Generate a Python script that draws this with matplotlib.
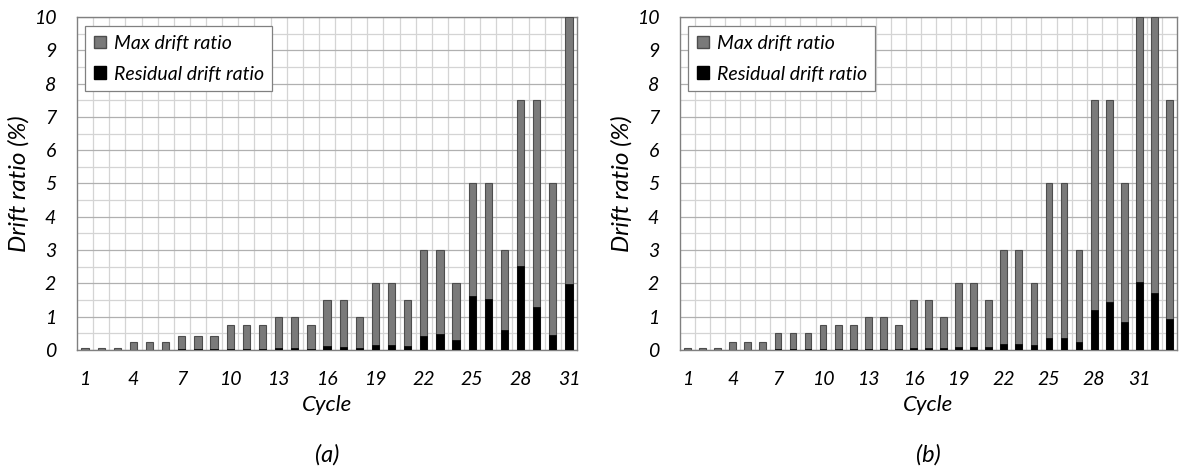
import matplotlib
matplotlib.use("Agg")
import matplotlib.pyplot as plt
import numpy as np
from matplotlib.patches import Patch

plt.rcParams['font.family'] = ['Lato', 'DejaVu Sans']

cycles_a = list(range(1, 32))
max_a = [0.05, 0.05, 0.05, 0.25, 0.25, 0.25, 0.43, 0.43, 0.43, 0.75, 0.75, 0.75,
         1.0, 1.0, 0.75, 1.5, 1.5, 1.0, 2.0, 2.0, 1.5, 3.0, 3.0, 2.0, 5.0, 5.0, 3.0,
         7.5, 7.5, 5.0, 10.0]
res_a = [0.01, 0.01, 0.01, 0.01, 0.01, 0.01, 0.03, 0.03, 0.03, 0.04, 0.04, 0.04,
         0.05, 0.05, 0.03, 0.11, 0.10, 0.06, 0.15, 0.15, 0.12, 0.43, 0.48, 0.29, 1.63, 1.54, 0.60,
         2.53, 1.30, 0.46, 1.99]

cycles_b = list(range(1, 34))
max_b = [0.05, 0.05, 0.05, 0.25, 0.25, 0.25, 0.5, 0.5, 0.5, 0.75, 0.75, 0.75,
         1.0, 1.0, 0.75, 1.5, 1.5, 1.0, 2.0, 2.0, 1.5, 3.0, 3.0, 2.0, 5.0, 5.0, 3.0,
         7.5, 7.5, 5.0, 10.0, 10.0, 7.5]
res_b = [0.01, 0.01, 0.01, 0.01, 0.01, 0.01, 0.02, 0.02, 0.02, 0.03, 0.03, 0.03,
         0.04, 0.04, 0.02, 0.06, 0.06, 0.05, 0.08, 0.08, 0.08, 0.17, 0.17, 0.14, 0.35, 0.37, 0.25,
         1.20, 1.45, 0.85, 2.05, 1.70, 0.93]

xticks = [1, 4, 7, 10, 13, 16, 19, 22, 25, 28, 31]
yticks = list(range(0, 11))

GRAY = '#7a7a7a'
EDGE = '#4d4d4d'

fig = plt.figure(figsize=(11.8, 4.68), dpi=100)
axes = [fig.add_axes([77/1180, 1-350/468, 500/1180, 333/468]),
        fig.add_axes([680/1180, 1-350/468, 497/1180, 333/468])]

for ax, cyc, mx, rs, tag in [(axes[0], cycles_a, max_a, res_a, '(a)'),
                              (axes[1], cycles_b, max_b, res_b, '(b)')]:
    n = len(cyc)
    ax.bar(cyc, mx, width=0.45, color=GRAY, edgecolor=EDGE, linewidth=0.8, zorder=3)
    ax.bar(cyc, rs, width=0.45, color='black', edgecolor='black', linewidth=0.5, zorder=4)
    ax.set_xlim(0.5, n + 0.5)
    ax.set_ylim(0, 10)
    ax.set_yticks(yticks)
    ax.set_yticks(np.arange(0.5, 10, 1.0), minor=True)
    ax.set_xticks(xticks)
    ax.set_xticks(np.arange(1.5, n + 0.5, 1.0), minor=True)
    ax.grid(True, which='major', axis='y', color='#b0b0b0', linewidth=0.9, zorder=0)
    ax.grid(True, which='minor', axis='both', color='#d4d4d4', linewidth=0.9, zorder=0)
    ax.tick_params(which='both', length=0)
    ax.tick_params(axis='both', labelsize=14)
    ax.tick_params(axis='x', pad=15)
    ax.tick_params(axis='y', pad=15)
    for lab in ax.get_xticklabels() + ax.get_yticklabels():
        lab.set_fontstyle('italic')
    for s in ax.spines.values():
        s.set_color('#808080')
        s.set_linewidth(1.0)
    ax.set_xlabel('Cycle', fontsize=16, fontstyle='italic', labelpad=5)
    ax.set_ylabel('Drift ratio (%)', fontsize=17.5, fontstyle='italic', labelpad=3)
    handles = [Patch(facecolor=GRAY, edgecolor=EDGE, label='Max drift ratio'),
               Patch(facecolor='black', edgecolor='black', label='Residual drift ratio')]
    leg = ax.legend(handles=handles, loc='upper left', bbox_to_anchor=(0.005, 0.99),
                    prop={'style': 'italic', 'size': 14}, fancybox=False,
                    edgecolor='#808080', framealpha=1, handlelength=0.6, handleheight=0.6,
                    handletextpad=0.4, borderpad=0.45, labelspacing=0.7, borderaxespad=0.3)
    leg.get_frame().set_linewidth(0.9)
    leg.set_zorder(10)
    ax.text(0.5, -0.315, tag, transform=ax.transAxes, ha='center', va='center',
            fontsize=17, fontstyle='italic')

fig.savefig('out.png', dpi=100)
